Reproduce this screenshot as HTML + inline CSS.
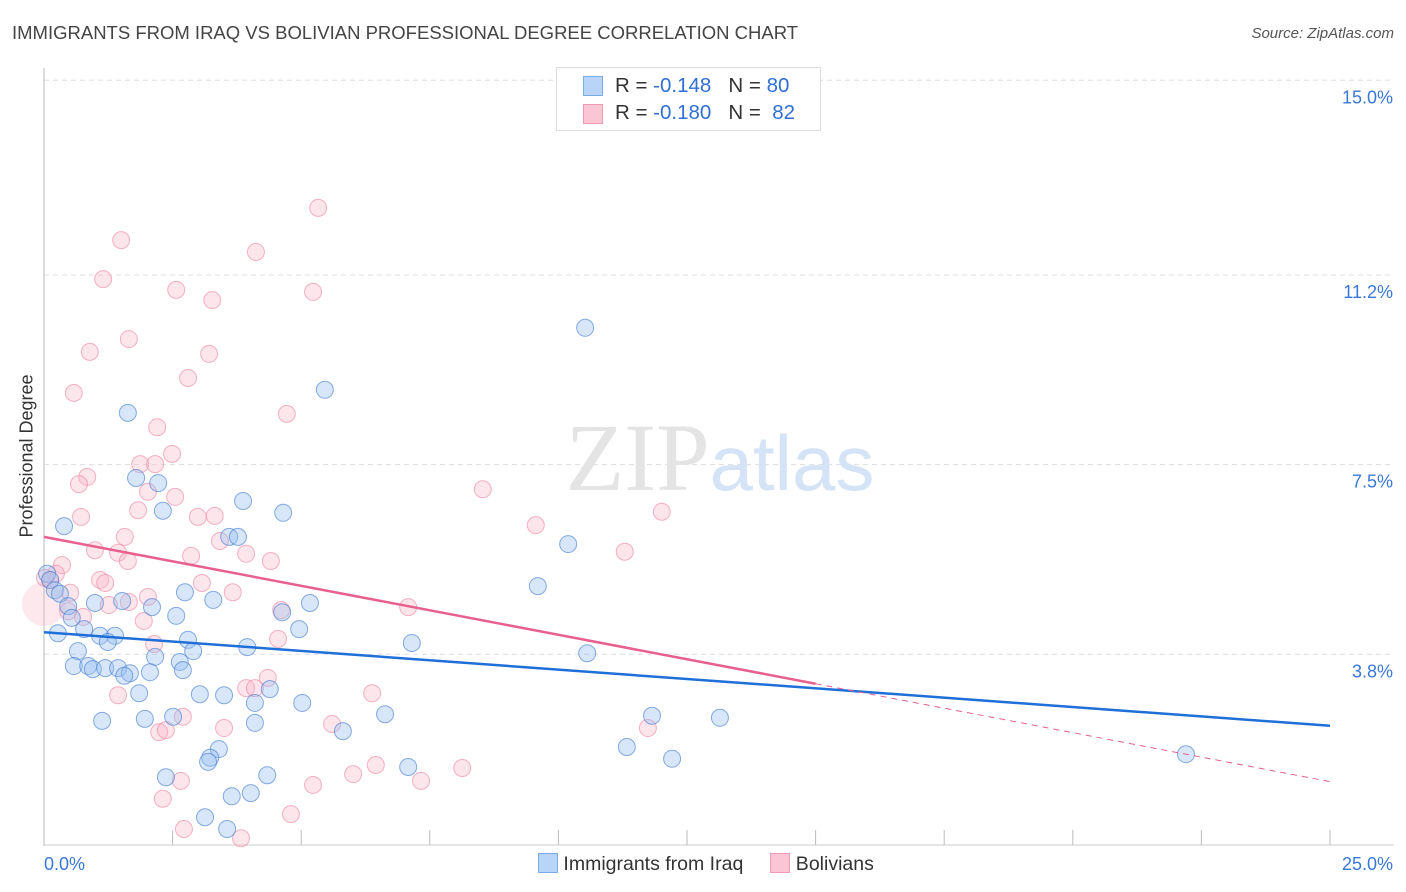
<!DOCTYPE html>
<html><head><meta charset="utf-8"><style>
body{margin:0;background:#fff;font-family:"Liberation Sans",sans-serif;}
#wrap{position:relative;width:1406px;height:892px;overflow:hidden;}
.t{position:absolute;white-space:nowrap;}
</style></head><body><div id="wrap">
<div class="t" style="left:12px;top:22px;font-size:18.5px;color:#444;">IMMIGRANTS FROM IRAQ VS BOLIVIAN PROFESSIONAL DEGREE CORRELATION CHART</div>
<div class="t" style="right:12px;top:25px;font-size:15px;color:#555;font-style:italic;">Source: ZipAtlas.com</div>
<div class="t" style="left:27px;top:456px;font-size:18px;color:#333;transform:translate(-50%,-50%) rotate(-90deg);">Professional Degree</div>
<svg id="svg" width="1406" height="892" style="position:absolute;left:0;top:0"></svg>
<div style="position:absolute;left:556px;top:67px;width:263px;height:62px;border:1px solid #ddd;background:#fff;font-size:20.5px;color:#333;">
<div style="position:absolute;left:26px;top:8px;width:18px;height:18px;background:#b8d4f6;border:1px solid #7aaae8;"></div>
<div class="t" style="left:58px;top:6px;">R = <span style="color:#2f6fd6">-0.148</span>&nbsp;&nbsp;&nbsp;N = <span style="color:#2f6fd6">80</span></div>
<div style="position:absolute;left:26px;top:36px;width:18px;height:18px;background:#fac6d6;border:1px solid #f09ab4;"></div>
<div class="t" style="left:58px;top:33px;">R = <span style="color:#2f6fd6">-0.180</span>&nbsp;&nbsp;&nbsp;N = &nbsp;<span style="color:#2f6fd6">82</span></div>
</div>
<div style="position:absolute;left:538px;top:853px;font-size:19.5px;color:#333;">
<span style="display:inline-block;width:18px;height:18px;background:#b8d4f6;border:1px solid #7aaae8;vertical-align:-3px;"></span> Immigrants from Iraq&nbsp;&nbsp;&nbsp;&nbsp;
<span style="display:inline-block;width:18px;height:18px;background:#fac6d6;border:1px solid #f09ab4;vertical-align:-3px;"></span> Bolivians
</div>
</div>
<script>
const yTicks=[15.0,11.2,7.5,3.8];
const yTickLabels=["15.0%","11.2%","7.5%","3.8%"];
const xTicks=[0,2.5,5,7.5,10,12.5,15,17.5,20,22.5,25];
const iraqX=[10.52,5.46,1.63,1.79,2.22,3.87,4.65,2.31,0.39,3.60,3.77,10.19,9.60,0.06,0.12,0.21,0.31,2.74,3.29,0.47,0.99,1.52,2.10,5.17,4.63,2.57,0.54,0.78,0.27,1.09,1.38,1.24,2.80,2.90,3.95,4.96,7.15,10.56,0.66,2.16,0.58,0.86,0.95,1.19,1.44,1.67,2.06,2.64,2.70,1.56,1.85,3.03,3.50,4.10,4.39,5.02,4.10,1.13,1.96,2.51,5.81,6.63,11.82,13.14,3.40,3.23,3.19,11.33,12.21,7.08,2.37,4.34,22.20,4.02,3.65,3.13,3.56];
const iraqY=[10.17,8.96,8.51,7.24,7.14,6.79,6.56,6.60,6.30,6.09,6.09,5.95,5.13,5.37,5.25,5.05,4.98,5.01,4.86,4.74,4.80,4.84,4.72,4.80,4.62,4.55,4.51,4.29,4.21,4.16,4.16,4.04,4.08,3.86,3.94,4.29,4.02,3.82,3.86,3.75,3.57,3.57,3.51,3.53,3.53,3.43,3.45,3.65,3.49,3.38,3.04,3.02,3.00,2.85,3.12,2.85,2.46,2.50,2.54,2.58,2.30,2.63,2.60,2.56,1.95,1.78,1.70,1.99,1.76,1.60,1.40,1.44,1.85,1.09,1.03,0.62,0.39];
const bolX=[5.33,1.50,4.12,1.15,2.57,5.23,3.27,1.65,0.89,3.21,2.80,0.58,4.72,2.20,2.49,1.87,2.16,0.84,0.68,2.02,2.55,8.53,12.01,9.56,0.72,1.83,2.99,3.32,3.42,1.57,0.99,1.44,2.86,3.93,1.63,4.41,11.29,0.35,0.23,0.02,0.12,1.09,1.19,3.07,3.67,0.51,2.02,1.65,1.26,0.47,0.76,7.08,4.61,1.94,4.55,2.14,4.35,3.93,4.10,1.44,6.38,2.70,5.60,3.50,2.24,2.37,11.74,6.45,8.13,6.01,7.33,2.66,5.23,2.31,4.80,2.72,3.83];
const bolY=[12.51,11.88,11.65,11.12,10.91,10.87,10.71,9.95,9.70,9.66,9.19,8.90,8.49,8.23,7.71,7.51,7.51,7.26,7.12,6.97,6.87,7.02,6.58,6.32,6.48,6.61,6.48,6.50,6.01,6.09,5.83,5.78,5.72,5.76,5.62,5.62,5.80,5.54,5.37,5.29,5.25,5.25,5.19,5.19,5.01,5.00,4.92,4.82,4.76,4.64,4.53,4.72,4.66,4.45,4.10,4.00,3.34,3.14,3.14,3.00,3.04,2.58,2.44,2.36,2.28,2.32,2.36,1.64,1.58,1.46,1.33,1.33,1.25,0.98,0.68,0.39,0.21];
const iraqTrend=[4.23,-0.073];
const bolTrend=[6.09,-0.191];
const bolSolidEnd=15;
const NS="http://www.w3.org/2000/svg";
const svg=document.getElementById('svg');
const X=v=>44+v*51.44, Y=v=>849-v*51.25;
function mk(t,a){const e=document.createElementNS(NS,t);for(const k in a)e.setAttribute(k,a[k]);svg.appendChild(e);return e;}
yTicks.forEach((v,i)=>{
 const g=mk('line',{x1:44,x2:1394,y1:Y(v),y2:Y(v),stroke:'#ddd','stroke-dasharray':'5,4'});
 
 
 const t=mk('text',{x:1393,y:Y(v)+23,'text-anchor':'end','font-size':18,fill:'#3a78d8','font-family':'Liberation Sans'});
 t.textContent=yTickLabels[i];
 
 
});
const ax=mk('line',{x1:44,x2:44,y1:68,y2:846,stroke:'#bbb'});


const bx=mk('line',{x1:44,x2:1394,y1:845,y2:845,stroke:'#ccc'});


xTicks.forEach(v=>{
 const l=mk('line',{x1:X(v),x2:X(v),y1:830,y2:845,stroke:'#bbb'});
 
 
});
const xl0=mk('text',{x:44,y:870,'font-size':18,fill:'#3a78d8','font-family':'Liberation Sans'});xl0.textContent='0.0%';


const xl1=mk('text',{x:1393,y:870,'text-anchor':'end','font-size':18,fill:'#3a78d8','font-family':'Liberation Sans'});xl1.textContent='25.0%';


const wm=mk('text',{x:720,y:490,'text-anchor':'middle','font-size':96,fill:'#e4e4e4','font-family':'Liberation Serif'});
wm.innerHTML='ZIP<tspan fill="#d4e3f5" font-family="Liberation Sans" font-size="78">atlas</tspan>';


const blob=mk('circle',{cx:44,cy:604,r:22,fill:'rgba(248,180,200,0.3)'});


bolX.forEach((v,i)=>{
 const c=mk('circle',{cx:X(v),cy:Y(bolY[i]),r:8.5,fill:'rgba(248,180,200,0.35)',stroke:'rgba(236,130,160,0.6)','stroke-width':1});
 
 
});
iraqX.forEach((v,i)=>{
 const c=mk('circle',{cx:X(v),cy:Y(iraqY[i]),r:8.5,fill:'rgba(150,190,240,0.38)',stroke:'rgba(60,120,210,0.6)','stroke-width':1});
 
 
});
const tb=mk('line',{x1:X(0),y1:Y(iraqTrend[0]),x2:X(25),y2:Y(iraqTrend[0]+iraqTrend[1]*25),stroke:'#1f6fd8','stroke-width':2.5});


const tp=mk('line',{x1:X(0),y1:Y(bolTrend[0]),x2:X(bolSolidEnd),y2:Y(bolTrend[0]+bolTrend[1]*bolSolidEnd),stroke:'#e8608e','stroke-width':2.5});


const td=mk('line',{x1:X(bolSolidEnd),y1:Y(bolTrend[0]+bolTrend[1]*bolSolidEnd),x2:X(25),y2:Y(bolTrend[0]+bolTrend[1]*25),stroke:'#e8608e','stroke-width':1,'stroke-dasharray':'6,5'});


</script></body></html>
